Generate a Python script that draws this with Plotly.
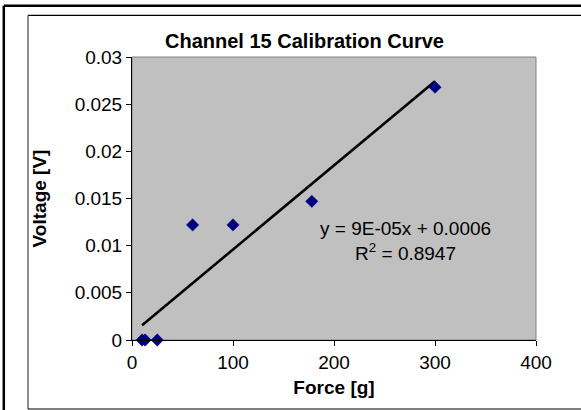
import numpy as np
import plotly.graph_objects as go

# ---- data ----
force = [10, 13, 25, 60, 100, 178, 300]
voltage = [0.0, 0.0, 0.0, 0.0122, 0.0122, 0.0147, 0.0268]

x_ticks = [0, 100, 200, 300, 400]
x_tick_labels = ["0", "100", "200", "300", "400"]
y_ticks = [0, 0.005, 0.01, 0.015, 0.02, 0.025, 0.03]
y_tick_labels = ["0", "0.005", "0.01", "0.015", "0.02", "0.025", "0.03"]

title_text = "Channel 15 Calibration Curve"
x_title = "Force [g]"
y_title = "Voltage [V]"
equation_text = "y = 9E-05x + 0.0006<br>R<sup>2</sup> = 0.8947"

# linear trend line fitted to the data (drawn over the data range)
slope, intercept = np.polyfit(force, voltage, 1)
trend_x = [min(force), max(force)]
trend_y = [slope * v + intercept for v in trend_x]

FONT = "Arial, Liberation Sans, sans-serif"
W, H = 581, 410
ML, MR, MT, MB = 132, 45, 57, 70
PW, PH = W - ML - MR, H - MT - MB


def px(xp):
    return (xp - ML) / PW


def py(yp):
    return (H - MB - yp) / PH


fig = go.Figure()
fig.add_trace(go.Scatter(
    x=trend_x, y=trend_y, mode="lines",
    line=dict(color="black", width=2.6),
    showlegend=False, hoverinfo="skip",
))
fig.add_trace(go.Scatter(
    x=force, y=voltage, mode="markers",
    marker=dict(symbol="diamond", size=9.5, color="#000080",
                line=dict(color="#000080", width=0.5)),
    showlegend=False, cliponaxis=False,
))


def hline(y, x0, x1, w, c):
    return dict(type="line", xref="paper", yref="paper", x0=px(x0), x1=px(x1),
                y0=py(y), y1=py(y), line=dict(color=c, width=w), layer="below")


def vline(x, y0, y1, w, c):
    return dict(type="line", xref="paper", yref="paper", x0=px(x), x1=px(x),
                y0=py(y0), y1=py(y1), line=dict(color=c, width=w), layer="below")


shapes = [
    # outer thick frame (left and top visible)
    hline(5.8, 3.8, 700, 2.5, "black"),
    vline(3.8, 5.8, 500, 2.5, "black"),
    # chart area frame (left, top, bottom visible)
    hline(15.3, 28, 700, 1.2, "black"),
    vline(28, 15.3, 409, 1.2, "#404040"),
    hline(409, 28, 700, 1.2, "black"),
    # plot area border (grey)
    dict(type="rect", xref="paper", yref="paper",
         x0=0, x1=1, y0=0, y1=1,
         line=dict(color="#808080", width=1), layer="below"),
]

fig.update_layout(
    width=W, height=H,
    margin=dict(l=ML, r=MR, t=MT, b=MB, pad=0),
    paper_bgcolor="white",
    plot_bgcolor="#C0C0C0",
    font=dict(family=FONT, size=19, color="black"),
    title=dict(text="<b>" + title_text + "</b>", x=304.5 / W, xanchor="center",
               y=1 - 40.5 / H, yanchor="middle",
               font=dict(family=FONT, size=20, color="black")),
    shapes=shapes,
    showlegend=False,
    annotations=[dict(
        text=equation_text, x=270.5, y=0.0105, xref="x", yref="y",
        xanchor="center", yanchor="middle", showarrow=False, align="center",
        font=dict(family=FONT, size=19, color="black"),
    )],
)

fig.update_xaxes(
    range=[0, 400], tickvals=x_ticks, ticktext=x_tick_labels,
    ticks="outside", ticklen=5, tickwidth=1, tickcolor="black",
    showline=True, linecolor="black", linewidth=1,
    showgrid=False, zeroline=False,
    tickfont=dict(family=FONT, size=19, color="black"),
    title=dict(text="<b>" + x_title + "</b>", standoff=8,
               font=dict(family=FONT, size=19, color="black")),
)
fig.update_yaxes(
    range=[0, 0.03], tickvals=y_ticks, ticktext=y_tick_labels,
    ticks="outside", ticklen=5, tickwidth=1, tickcolor="black",
    showline=True, linecolor="black", linewidth=1,
    showgrid=False, zeroline=False,
    tickfont=dict(family=FONT, size=19, color="black"),
    title=dict(text="<b>" + y_title + "</b>", standoff=23,
               font=dict(family=FONT, size=19, color="black")),
)

fig.write_html(
    "out.html",
    config={"displayModeBar": False},
    post_script=(
        "document.documentElement.style.overflow='hidden';"
        "document.body.style.overflow='hidden';"
        "document.body.style.margin='0';"
    ),
)
